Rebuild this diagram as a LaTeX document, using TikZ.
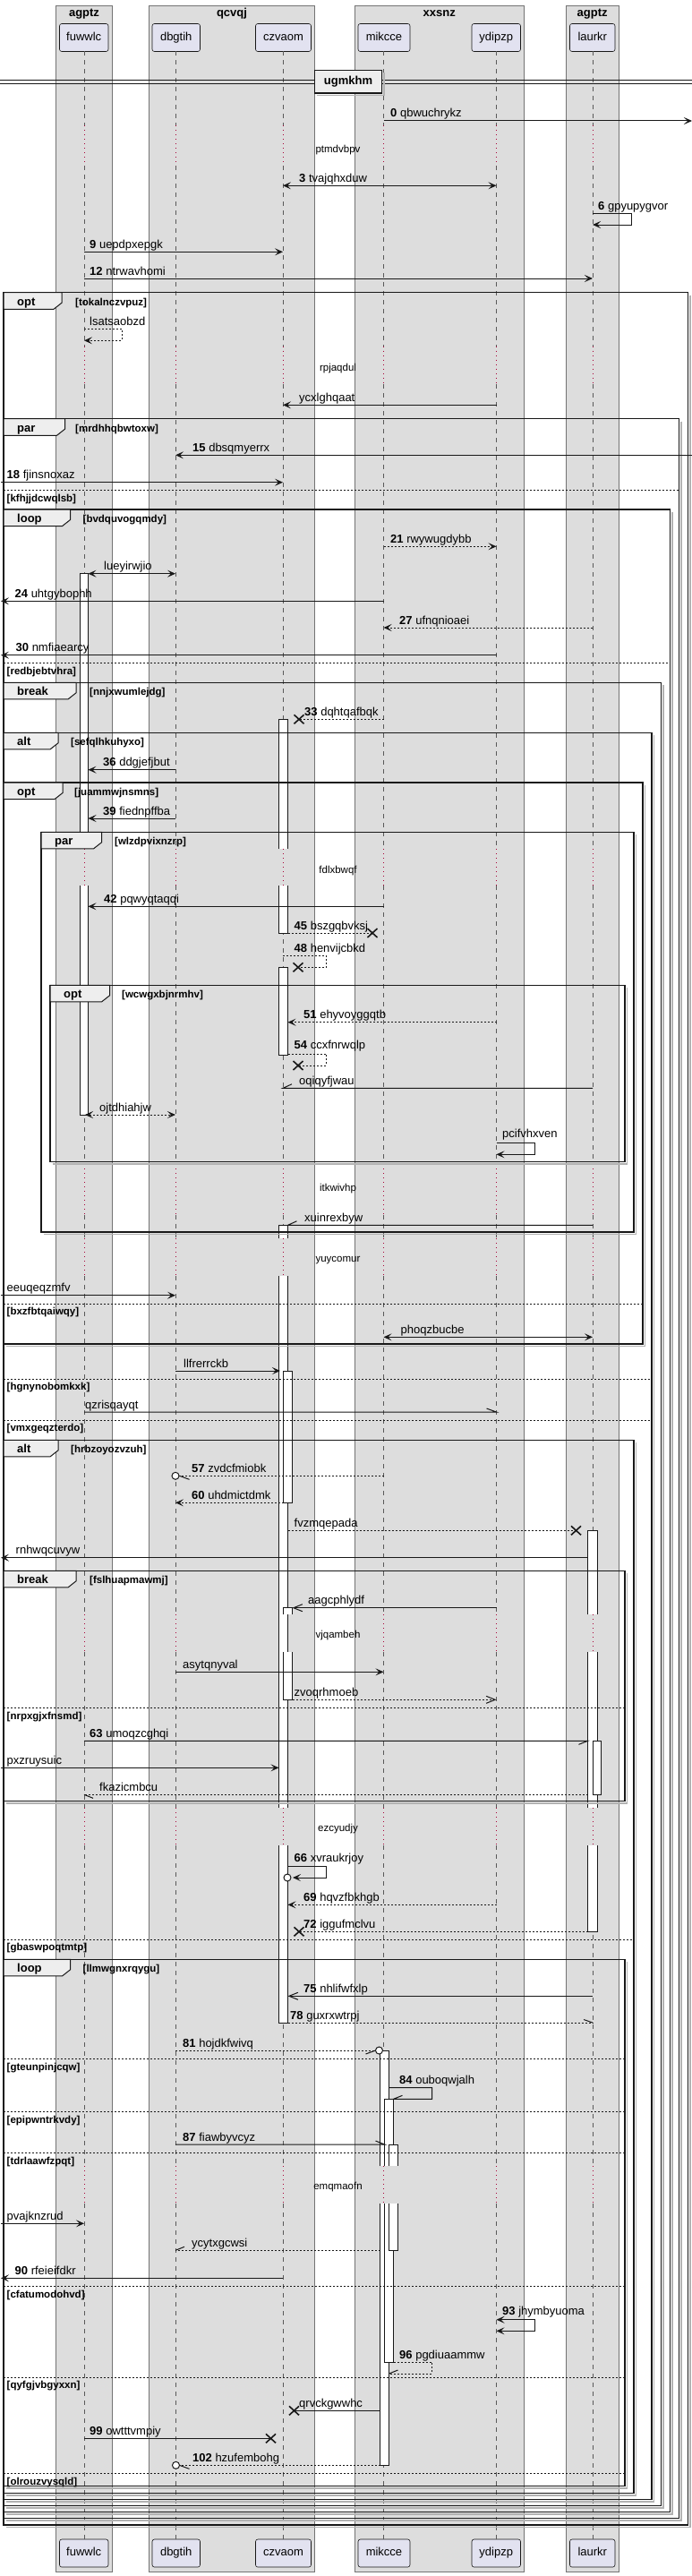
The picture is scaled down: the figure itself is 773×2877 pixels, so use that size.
\documentclass[tikz,border=0pt]{standalone}
\usepackage{fontspec}
\setmainfont{Liberation Sans}
\usetikzlibrary{arrows.meta}
\definecolor{boxbg}{HTML}{DDDDDD}
\definecolor{partbg}{HTML}{E2E2F0}
\definecolor{tabbg}{HTML}{EEEEEE}
\definecolor{delayc}{HTML}{A80036}
\definecolor{linec}{HTML}{181818}
\newcommand\fm{\fontsize{13}{15}\selectfont}
\newcommand\fsm{\fontsize{11.5}{13}\selectfont}
\tikzset{
  grp/.style={fill=boxbg, draw=black!55, line width=0.5pt},
  part/.style={fill=partbg, draw=linec, line width=0.6pt, rounded corners=2.5pt, minimum height=31pt, inner sep=0pt, text height=9.5pt, text depth=2.7pt, font=\fm},
  grptitle/.style={font={\fm\bfseries}, inner sep=0pt, anchor=base},
  life/.style={draw=black!65, line width=0.6pt, dash pattern=on 5pt off 5pt},
  delayl/.style={draw=delayc, line width=0.8pt, dash pattern=on 1pt off 4pt},
  msg/.style={draw=linec, line width=1pt},
  dmsg/.style={msg, dash pattern=on 2pt off 2pt},
  fa/.style={-{Stealth[length=9pt,width=8pt,inset=4pt]}},
  fab/.style={{Stealth[length=9pt,width=8pt,inset=4pt]}-{Stealth[length=9pt,width=8pt,inset=4pt]}},
  oa/.style={-{Straight Barb[length=10pt,width=8pt]}},
  lbl/.style={anchor=base west, inner sep=0pt, font=\fm},
  frm/.style={draw=linec, line width=1.5pt},
  fshadow/.style={draw=black!30, line width=1.5pt},
  tabs/.style={fill=tabbg, draw=linec, line width=1pt},
  tabtxt/.style={anchor=base west, inner sep=0pt, font={\fm\bfseries}},
  cond/.style={anchor=base west, inner sep=0pt, font={\fsm\bfseries}},
  elsel/.style={draw=linec, line width=0.8pt, dash pattern=on 2pt off 2pt},
  dly/.style={inner sep=0pt, anchor=base, font=\fsm},
  bar/.style={fill=white, draw=linec, line width=1pt},
  xm/.style={draw=linec, line width=1.6pt},
  divbox/.style={fill=tabbg, draw=linec, line width=1.5pt, minimum width=75pt, minimum height=25.7pt, inner sep=0pt, font={\fm\bfseries}},
}
% frame: l t r b tabr label cond condx name
\newcommand\gframe[9]{%
  \draw[fshadow] ({#3+2.5},{#2+3}) -- ({#3+2.5},{#4+2.5}) -- ({#1+3},{#4+2.5});
  \draw[frm] (#1,#2) rectangle (#3,#4);
  \draw[tabs] (#1,#2) -- (#5,#2) -- (#5,{#2+11.5}) -- ({#5-9},{#2+18.6}) -- (#1,{#2+18.6}) -- cycle;
  \node[tabtxt] (#9a) at ({#1+15},{#2+14.5}) {#6};
  \node[cond] (#9b) at (#8,{#2+14.5}) {[#7]};
}
% else: l y r cond name
\newcommand\gelse[5]{%
  \draw[elsel] (#1,#2) -- (#3,#2);
  \node[cond] (#5) at ({#1+3.5},{#2+12.7}) {[#4]};
}
\newcommand\actc[4]{\draw[bar] (#1,#2) rectangle (#3,#4);}
\newcommand\acto[4]{\fill[white] (#1,#2) rectangle (#3,#4); \draw[msg] (#1,#2) -- (#1,#4) (#3,#2) -- (#3,#4);}
\newcommand\actt[4]{\fill[white] (#1,#2) rectangle (#3,#4); \draw[msg] (#1,#4) -- (#1,#2) -- (#3,#2) -- (#3,#4);}
\newcommand\actb[4]{\fill[white] (#1,#2) rectangle (#3,#4); \draw[msg] (#1,#2) -- (#1,#4) -- (#3,#4) -- (#3,#2);}
\newcommand\xcross[2]{\draw[xm] ({#1-5.5},{#2-5}) -- ({#1+5.5},{#2+5}) ({#1-5.5},{#2+5}) -- ({#1+5.5},{#2-5});}
\begin{document}
\begin{tikzpicture}[x=1pt,y=-1pt]
\useasboundingbox (0,0) rectangle (773,2877);
\fill[white] (0,0) rectangle (773,2877);
% lifeline x positions
\coordinate (L) at (1,0);
\coordinate (R) at (773,0);
\coordinate (fu) at (94,0);
\coordinate (fuR) at (98.5,0);
\coordinate (db) at (196,0);
\coordinate (cz) at (316,0);
\coordinate (czL) at (311.5,0);
\coordinate (czR) at (321.5,0);
\coordinate (cz2L) at (316.5,0);
\coordinate (cz2R) at (326.5,0);
\coordinate (mi) at (428.5,0);
\coordinate (miL) at (424.5,0);
\coordinate (miR) at (434.5,0);
\coordinate (mi2L) at (429.5,0);
\coordinate (mi2R) at (439.5,0);
\coordinate (yd) at (554.5,0);
\coordinate (la) at (662,0);
\coordinate (laL) at (656.5,0);
% group boxes
\draw[grp] (62.5,6) rectangle (125.5,2872);
\draw[grp] (166,6) rectangle (351.5,2872);
\draw[grp] (396,6) rectangle (585.5,2872);
\draw[grp] (632.5,6) rectangle (691,2872);
\node[grptitle] (g1) at (94,18.5) {agptz};
\node[grptitle] (g2) at (259,18.5) {qcvqj};
\node[grptitle] (g3) at (490.7,18.5) {xxsnz};
\node[grptitle] (g4) at (661.7,18.5) {agptz};
% participants
\node[part, minimum width=54.5pt] (fuT) at (93.75,42) {fuwwlc};
\node[part, minimum width=53.5pt] (dbT) at (196.75,42) {dbgtih};
\node[part, minimum width=62pt] (czT) at (316.5,42) {czvaom};
\node[part, minimum width=58pt] (miT) at (429,42) {mikcce};
\node[part, minimum width=54.5pt] (ydT) at (554.25,42) {ydipzp};
\node[part, minimum width=50.5pt] (laT) at (661.75,42) {laurkr};
\node[part, minimum width=54.5pt] (fuB) at (93.75,2851.5) {fuwwlc};
\node[part, minimum width=53.5pt] (dbB) at (196.75,2851.5) {dbgtih};
\node[part, minimum width=62pt] (czB) at (316.5,2851.5) {czvaom};
\node[part, minimum width=58pt] (miB) at (429,2851.5) {mikcce};
\node[part, minimum width=54.5pt] (ydB) at (554.25,2851.5) {ydipzp};
\node[part, minimum width=50.5pt] (laB) at (661.75,2851.5) {laurkr};
% lifelines
\foreach \p in {fu,db,cz,mi,yd,la}{
  \foreach \a/\b in {57.5/140,185/386.7,429.3/948.3,989.3/1300,1357/1383.3,1425/1803.3,1845/2019.3,2061/2419.3,2461/2836}{
    \draw[life] (\p|-0,\a) -- (\p|-0,\b);
  }
  \foreach \a/\b in {140/185,386.7/429.3,948.3/989.3,1300/1357,1383.3/1425,1803.3/1845,2019.3/2061,2419.3/2461}{
    \draw[delayl] (\p|-0,\a) -- (\p|-0,\b);
  }
}
% delays
\node[dly] (d1) at (377.5,170) {ptmdvbpv};
\node[dly] (d2) at (377.5,414.7) {rpjaqdul};
\node[dly] (d3) at (377.5,975) {fdlxbwqf};
\node[dly] (d4) at (377.5,1330.7) {itkwivhp};
\node[dly] (d5) at (377.5,1409.7) {yuycomur};
\node[dly] (d6) at (377.5,1829.7) {vjqambeh};
\node[dly] (d7) at (377.5,2045.7) {ezcyudjy};
\node[dly] (d8) at (377.5,2445.7) {emqmaofn};
% divider
\draw[msg] (0,89.5) -- (773,89.5);
\draw[msg] (0,93.8) -- (773,93.8);
\draw[fshadow] (429,81) -- (429,106.5) -- (354,106.5);
\node[divbox] (div) at (389,91.2) {ugmkhm};
% activation bars
\actt{89}{640.7}{98.5}{948.3}
\actb{89}{989.3}{98.5}{1245}
\actt{311.5}{803.3}{321.5}{948.3}
\actb{311.5}{989.3}{321.5}{1042}
\actc{311.5}{1080.3}{321.5}{1178.3}
\actt{311.5}{1368.3}{321.5}{1383.3}
\acto{311.5}{1425}{321.5}{2019.3}
\actb{311.5}{2061}{321.5}{2259}
\actc{316.5}{1531}{326.5}{1678.3}
\actt{316.5}{1795.7}{326.5}{1803.3}
\actb{316.5}{1845}{326.5}{1898.3}
\actt{656.5}{1709.3}{667}{1803.3}
\acto{656.5}{1845}{667}{2019.3}
\actb{656.5}{2061}{667}{2157.3}
\actc{662}{1944.3}{671.5}{2004.3}
\actt{424.5}{2290}{434.5}{2419.3}
\actb{424.5}{2461}{434.5}{2753.3}
\actt{429.5}{2344.3}{439.5}{2419.3}
\actb{429.5}{2461}{439.5}{2638.3}
\actt{434.5}{2395}{444.5}{2419.3}
\actb{434.5}{2461}{444.5}{2513.3}
% frames
\gframe{4}{326.7}{768.5}{2820}{69}{opt}{tokalnczvpuz}{84}{f1}
\gframe{4}{467.7}{758.5}{2812.7}{72.5}{par}{mrdhhqbwtoxw}{84}{f2}
\gelse{4}{547.3}{758.5}{kfhjjdcwqlsb}{e1}
\gframe{4}{569}{748.5}{2805.7}{78.5}{loop}{bvdquvogqmdy}{92.5}{f3}
\gelse{4}{740.7}{748.5}{redbjebtvhra}{e2}
\gframe{4}{762.3}{738.5}{2798.3}{85}{break}{nnjxwumlejdg}{100}{f4}
\gframe{4}{818.3}{728}{2791.7}{65}{alt}{sefqlhkuhyxo}{79}{f5}
\gelse{4}{1540}{728}{hgnynobomkxk}{e3}
\gelse{4}{1586}{728}{vmxgeqzterdo}{e4}
\gframe{4}{874}{718}{1501}{70}{opt}{juammwjnsmns}{83}{f6}
\gelse{4}{1456}{718}{bxzfbtqaiwqy}{e5}
\gframe{46}{929.3}{708}{1376}{113.5}{par}{wlzdpvixnzrp}{128}{f7}
\gframe{56}{1100.3}{698}{1297.3}{122.5}{opt}{wcwgxbjnrmhv}{136}{f8}
\gframe{4}{1608.3}{708}{2784.3}{65}{alt}{hrbzoyozvzuh}{79}{f9}
\gelse{4}{2166}{708}{gbaswpoqtmtp}{e6}
\gframe{4}{1754.3}{698}{2011.7}{85}{break}{fslhuapmawmj}{100}{f10}
\gelse{4}{1907.7}{698}{nrpxgjxfnsmd}{e7}
\gframe{4}{2188.3}{698}{2776.7}{78.5}{loop}{llmwgnxrqygu}{92.5}{f11}
\gelse{4}{2299.3}{698}{gteunpinjcqw}{e8}
\gelse{4}{2358.7}{698}{epipwntrkvdy}{e9}
\gelse{4}{2404.3}{698}{tdrlaawfzpqt}{e10}
\gelse{4}{2553.7}{698}{cfatumodohvd}{e11}
\gelse{4}{2655}{698}{qyfgjvbgyxxn}{e12}
\gelse{4}{2762.3}{698}{olrouzvysqld}{e13}
% messages
\draw[msg,fa] (mi|-0,135) -- (R|-0,135);
\node[lbl] (t0) at (436,131) {\textbf{0} qbwuchrykz};
\draw[msg,fab] (cz|-0,207.3) -- (yd|-0,207.3);
\node[lbl] (t3) at (334,203.3) {\textbf{3} tvajqhxduw};
\draw[msg,fa] (la|-0,238.3) -- (705,238.3) -- (705,251) -- (la|-0,251);
\node[lbl] (t6) at (668,234) {\textbf{6} gpyupygvor};
\draw[msg,fa] (fu|-0,281.3) -- (cz|-0,281.3);
\node[lbl] (t9) at (100,277.3) {\textbf{9} uepdpxepgk};
\draw[msg,fa] (fu|-0,311) -- (la|-0,311);
\node[lbl] (t12) at (100,307) {\textbf{12} ntrwavhomi};
\draw[dmsg,fa] (fu|-0,367) -- (136,367) -- (136,380.3) -- (fu|-0,380.3);
\node[lbl] (ta) at (100,363) {lsatsaobzd};
\draw[msg,fa] (yd|-0,452.3) -- (cz|-0,452.3);
\node[lbl] (tb) at (334,448.3) {ycxlghqaat};
\draw[msg,fa] (R|-0,508.3) -- (db|-0,508.3);
\node[lbl] (t15) at (215,504.3) {\textbf{15} dbsqmyerrx};
\draw[msg,fa] (L|-0,538.7) -- (cz|-0,538.7);
\node[lbl] (t18) at (7.5,534.7) {\textbf{18} fjinsnoxaz};
\draw[dmsg,fa] (mi|-0,610.3) -- (yd|-0,610.3);
\node[lbl] (t21) at (436,606.3) {\textbf{21} rwywugdybb};
\draw[msg,fab] (fuR|-0,640.7) -- (db|-0,640.7);
\node[lbl] (tc) at (116,636.7) {lueyirwjio};
\draw[msg,fa] (mi|-0,671.3) -- (L|-0,671.3);
\node[lbl] (t24) at (16.5,667.3) {\textbf{24} uhtgybophh};
\draw[dmsg,fa] (la|-0,701) -- (mi|-0,701);
\node[lbl] (t27) at (446,697) {\textbf{27} ufnqnioaei};
\draw[msg,fa] (yd|-0,731.7) -- (L|-0,731.7);
\node[lbl] (t30) at (17.5,727.7) {\textbf{30} nmfiaearcy};
\draw[dmsg] (mi|-0,803.3) -- (334,803.3);
\xcross{334}{803.3}
\node[lbl] (t33) at (340,799.3) {\textbf{33} dqhtqafbqk};
\draw[msg,fa] (db|-0,859.7) -- (fuR|-0,859.7);
\node[lbl] (t36) at (115,855.7) {\textbf{36} ddgjefjbut};
\draw[msg,fa] (db|-0,914) -- (fuR|-0,914);
\node[lbl] (t39) at (115,910) {\textbf{39} fiednpffba};
\draw[msg,fa] (mi|-0,1012.3) -- (fuR|-0,1012.3);
\node[lbl] (t42) at (116,1008.3) {\textbf{42} pqwyqtaqqi};
\draw[dmsg] (czR|-0,1042) -- (416,1042);
\xcross{416}{1042}
\node[lbl] (t45) at (328.5,1038) {\textbf{45} bszgqbvksj};
\draw[dmsg] (cz|-0,1067.3) -- (364.5,1067.3) -- (364.5,1080.3) -- (333,1080.3);
\xcross{333}{1080.3}
\node[lbl] (t48) at (328.5,1063) {\textbf{48} henvijcbkd};
\draw[dmsg,fa] (yd|-0,1141.7) -- (czR|-0,1141.7);
\node[lbl] (t51) at (339,1137.7) {\textbf{51} ehyvoyggqtb};
\draw[dmsg] (czR|-0,1177.3) -- (364.5,1177.3) -- (364.5,1190) -- (333,1190);
\xcross{333}{1190}
\node[lbl] (t54) at (328.5,1171.7) {\textbf{54} ccxfnrwqlp};
\draw[msg] (la|-0,1215.3) -- (cz|-0,1215.3) -- ++(10,-4.5);
\node[lbl] (td) at (334,1211.3) {oqiqyfjwau};
\draw[dmsg,fab] (95,1245) -- (db|-0,1245);
\node[lbl] (te) at (111,1241) {ojtdhiahjw};
\draw[msg,fa] (yd|-0,1276.3) -- (597,1276.3) -- (597,1289.3) -- (yd|-0,1289.3);
\node[lbl] (tf) at (561,1270.7) {pcifvhxven};
\draw[msg] (la|-0,1368.3) -- (czR|-0,1368.3) -- ++(10,-4.5);
\node[lbl] (tg) at (340,1364.3) {xuinrexbyw};
\draw[msg,fa] (L|-0,1446.7) -- (db|-0,1446.7);
\node[lbl] (th) at (7.5,1442.7) {eeuqeqzmfv};
\draw[msg,fab] (mi|-0,1493.3) -- (la|-0,1493.3);
\node[lbl] (ti) at (447.5,1489.3) {phoqzbucbe};
\draw[msg,fa] (db|-0,1531) -- (313,1531);
\node[lbl] (tj) at (205,1527) {llfrerrckb};
\draw[msg] (fu|-0,1577) -- (yd|-0,1577) -- ++(-11,-4);
\node[lbl] (tk) at (95,1573) {qzrisqayqt};
\draw[dmsg] (mi|-0,1648.3) -- (200,1648.3);
\draw[msg] (200.5,1648.3) -- ++(11,4);
\draw[msg,fill=white] (196,1648.3) circle (4pt);
\node[lbl] (t57) at (214,1644.3) {\textbf{57} zvdcfmiobk};
\draw[dmsg,fa] (cz2L|-0,1678.3) -- (db|-0,1678.3);
\node[lbl] (t60) at (214,1674.3) {\textbf{60} uhdmictdmk};
\draw[dmsg] (czR|-0,1709.3) -- (643.5,1709.3);
\xcross{643.5}{1709.3}
\node[lbl] (tl) at (328.5,1705.3) {fvzmqepada};
\draw[msg,fa] (laL|-0,1739.7) -- (L|-0,1739.7);
\node[lbl] (tm) at (17.5,1735.7) {rnhwqcuvyw};
\draw[msg,oa] (yd|-0,1795.7) -- (cz2R|-0,1795.7);
\node[lbl] (tn) at (344,1791.7) {aagcphlydf};
\draw[msg,fa] (db|-0,1867.3) -- (mi|-0,1867.3);
\node[lbl] (to) at (204,1863.3) {asytqnyval};
\draw[dmsg,oa] (cz2R|-0,1898.3) -- (yd|-0,1898.3);
\node[lbl] (tp) at (328.5,1894.3) {zvoqrhmoeb};
\draw[msg] (fu|-0,1944.3) -- (laL|-0,1944.3) -- ++(-10,4);
\node[lbl] (t63) at (100,1940.3) {\textbf{63} umoqzcghqi};
\draw[msg,fa] (L|-0,1974.3) -- (czL|-0,1974.3);
\node[lbl] (tq) at (7.5,1970.3) {pxzruysuic};
\draw[dmsg] (laL|-0,2004.3) -- (fu|-0,2004.3);
\draw[msg] (fu|-0,2004.3) -- ++(10,4);
\node[lbl] (tr) at (111,2000.3) {fkazicmbcu};
\draw[msg,fa] (czR|-0,2084.3) -- (364.5,2084.3) -- (364.5,2097) -- (327,2097);
\draw[msg,fill=white] (321,2097) circle (4pt);
\node[lbl] (t66) at (328.5,2079.3) {\textbf{66} xvraukrjoy};
\draw[dmsg,fa] (yd|-0,2127.3) -- (czR|-0,2127.3);
\node[lbl] (t69) at (339,2123.3) {\textbf{69} hqvzfbkhgb};
\draw[dmsg] (laL|-0,2157.3) -- (334,2157.3);
\xcross{334}{2157.3}
\node[lbl] (t72) at (339,2153.3) {\textbf{72} iggufmclvu};
\draw[msg,oa] (la|-0,2229.3) -- (czR|-0,2229.3);
\node[lbl] (t75) at (339,2225.3) {\textbf{75} nhlifwfxlp};
\draw[dmsg] (czR|-0,2259) -- (la|-0,2259);
\draw[msg] (la|-0,2259) -- ++(-10,-3.5);
\node[lbl] (t78) at (324,2255) {\textbf{78} guxrxwtrpj};
\draw[dmsg] (db|-0,2290) -- (419.5,2290);
\draw[msg] (419.5,2290) -- ++(-11,4);
\draw[msg,fill=white] (423.5,2290) circle (4pt);
\node[lbl] (t81) at (204,2286) {\textbf{81} hojdkfwivq};
\draw[msg] (miR|-0,2331.7) -- (482.5,2331.7) -- (482.5,2344.3) -- (mi2R|-0,2344.3) -- ++(10,-4);
\node[lbl] (t84) at (446,2327.7) {\textbf{84} ouboqwjalh};
\draw[msg] (db|-0,2395) -- (mi2L|-0,2395) -- ++(-10,-4);
\node[lbl] (t87) at (204,2391) {\textbf{87} fiawbyvcyz};
\draw[msg,fa] (L|-0,2483.3) -- (fu|-0,2483.3);
\node[lbl] (ts) at (7.5,2479.3) {pvajknzrud};
\draw[dmsg] (miL|-0,2513.3) -- (db|-0,2513.3);
\draw[msg] (db|-0,2513.3) -- ++(10,-4);
\node[lbl] (tt) at (214,2509.3) {ycytxgcwsi};
\draw[msg,fa] (cz|-0,2544.3) -- (L|-0,2544.3);
\node[lbl] (t90) at (16.5,2540.3) {\textbf{90} rfeieifdkr};
\draw[msg,fab] (yd|-0,2590.7) -- (597,2590.7) -- (597,2603.3) -- (yd|-0,2603.3);
\node[lbl] (t93) at (561,2585.5) {\textbf{93} jhymbyuoma};
\draw[dmsg] (mi2R|-0,2638.3) -- (482.5,2638.3) -- (482.5,2651) -- (miR|-0,2651);
\draw[msg] (miR|-0,2651) -- ++(10,-4);
\node[lbl] (t96) at (446,2634.3) {\textbf{96} pgdiuaammw};
\draw[msg] (miL|-0,2692.3) -- (328.5,2692.3);
\xcross{328.5}{2692.3}
\node[lbl] (tu) at (334,2688.3) {qrvckgwwhc};
\draw[msg] (fu|-0,2723.3) -- (302.5,2723.3);
\xcross{302.5}{2723.3}
\node[lbl] (t99) at (100,2719.3) {\textbf{99} owtttvmpiy};
\draw[dmsg] (miL|-0,2753.3) -- (200.5,2753.3);
\draw[msg] (200.5,2753.3) -- ++(11,4);
\draw[msg,fill=white] (196.5,2753.3) circle (4pt);
\node[lbl] (t102) at (215,2749.3) {\textbf{102} hzufembohg};
\end{tikzpicture}
\end{document}
